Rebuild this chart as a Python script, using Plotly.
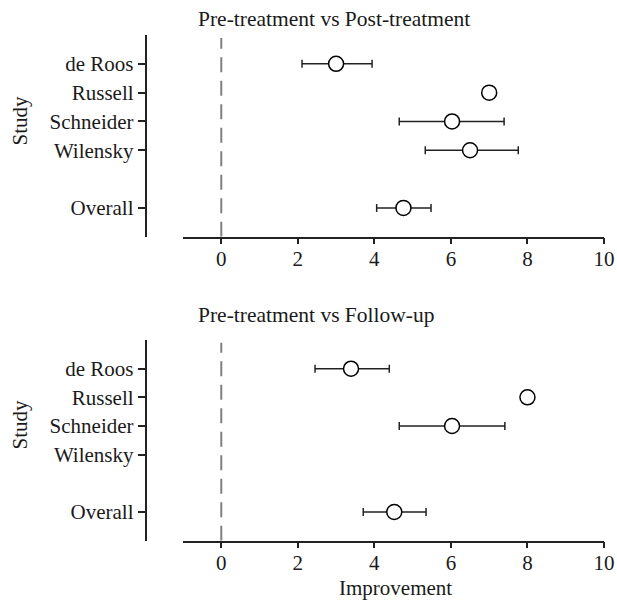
import plotly.graph_objects as go

studies = ["de Roos", "Russell", "Schneider", "Wilensky", "Overall"]
study_pos = [0, 1, 2, 3, 5]

# Pre-treatment vs Post-treatment
post_est = [3.0, 7.0, 6.03, 6.5, 4.76]
post_lo = [2.11, 7.0, 4.65, 5.33, 4.06]
post_hi = [3.94, 7.0, 7.39, 7.76, 5.48]

# Pre-treatment vs Follow-up (Wilensky missing)
fu_est = [3.39, 8.0, 6.03, None, 4.52]
fu_lo = [2.45, 8.0, 4.65, None, 3.71]
fu_hi = [4.39, 8.0, 7.41, None, 5.35]

titles = ["Pre-treatment vs Post-treatment", "Pre-treatment vs Follow-up"]
x_ticks = [0, 2, 4, 6, 8, 10]

W, H = 617, 606
FONT = "Liberation Serif"
FS = 21
TXT = "#1a1a1a"

def px_x(p):
    return p / W

def px_y(p):
    return 1 - p / H

fig = go.Figure()

panels = [
    (post_est, post_lo, post_hi, 35, 236.7, "x", "y"),
    (fu_est, fu_lo, fu_hi, 340, 540.7, "x2", "y2"),
]

for i, (est, lo, hi, top, bot, xa, ya) in enumerate(panels):
    xs, ys, ep, em = [], [], [], []
    for e, l, h, p in zip(est, lo, hi, study_pos):
        if e is None:
            continue
        xs.append(e)
        ys.append(p)
        ep.append(h - e)
        em.append(e - l)
    # zero reference line (drawn from bottom to top)
    fig.add_trace(go.Scatter(
        x=[0, 0], y=[6, -0.9], mode="lines",
        line=dict(color="#808080", width=2, dash="15px,8.5px"),
        xaxis=xa, yaxis=ya, showlegend=False, hoverinfo="skip"))
    fig.add_trace(go.Scatter(
        x=xs, y=ys, mode="markers",
        marker=dict(size=15, color="white", line=dict(color="black", width=1.5)),
        error_x=dict(type="data", symmetric=False, array=ep, arrayminus=em,
                     color="#222222", thickness=1.5, width=4),
        xaxis=xa, yaxis=ya, showlegend=False))

    suffix = "" if i == 0 else "2"
    xdom = [px_x(183), px_x(604)]
    fig.layout["xaxis" + suffix] = dict(
        domain=xdom, range=[-1, 10], tickvals=x_ticks,
        ticktext=[str(t) for t in x_ticks],
        showline=True, linecolor="#222222", linewidth=1.5,
        ticks="outside", ticklen=6, tickwidth=1.5, tickcolor="#222222",
        ticklabelstandoff=-4, automargin=False,
        showgrid=False, zeroline=False, anchor="y" + suffix,
        tickfont=dict(family=FONT, size=FS, color=TXT))
    fig.layout["yaxis" + suffix] = dict(
        domain=[px_y(bot), px_y(top)], range=[6, -1],
        tickvals=study_pos, ticktext=studies,
        showline=True, linecolor="#222222", linewidth=1.5,
        ticks="outside", ticklen=7, tickwidth=1.5, tickcolor="#222222",
        automargin=False,
        showgrid=False, zeroline=False, anchor="free", position=px_x(145.5),
        tickfont=dict(family=FONT, size=FS, color=TXT))

annotations = [
    dict(text=titles[0], x=px_x(196), y=px_y(19), xref="paper", yref="paper",
         showarrow=False, xanchor="left", yanchor="middle",
         font=dict(family=FONT, size=21.5, color=TXT)),
    dict(text=titles[1], x=px_x(196), y=px_y(315), xref="paper", yref="paper",
         showarrow=False, xanchor="left", yanchor="middle",
         font=dict(family=FONT, size=21.5, color=TXT)),
    dict(text="Study", x=px_x(19.5), y=px_y(120), xref="paper", yref="paper",
         showarrow=False, xanchor="center", yanchor="middle", textangle=-90,
         font=dict(family=FONT, size=FS, color=TXT)),
    dict(text="Study", x=px_x(19.5), y=px_y(424), xref="paper", yref="paper",
         showarrow=False, xanchor="center", yanchor="middle", textangle=-90,
         font=dict(family=FONT, size=FS, color=TXT)),
    dict(text="Improvement", x=px_x(395), y=px_y(588), xref="paper", yref="paper",
         showarrow=False, xanchor="center", yanchor="middle",
         font=dict(family=FONT, size=FS, color=TXT)),
]

fig.update_layout(
    width=W, height=H,
    margin=dict(l=0, r=0, t=0, b=0, autoexpand=False),
    paper_bgcolor="white", plot_bgcolor="white",
    annotations=annotations,
    showlegend=False,
)

fig.write_html(
    "out.html",
    config={"displayModeBar": False},
    post_script=(
        "document.documentElement.style.overflow='hidden';"
        "document.body.style.overflow='hidden';"
        "document.body.style.margin='0';"
    ),
)
